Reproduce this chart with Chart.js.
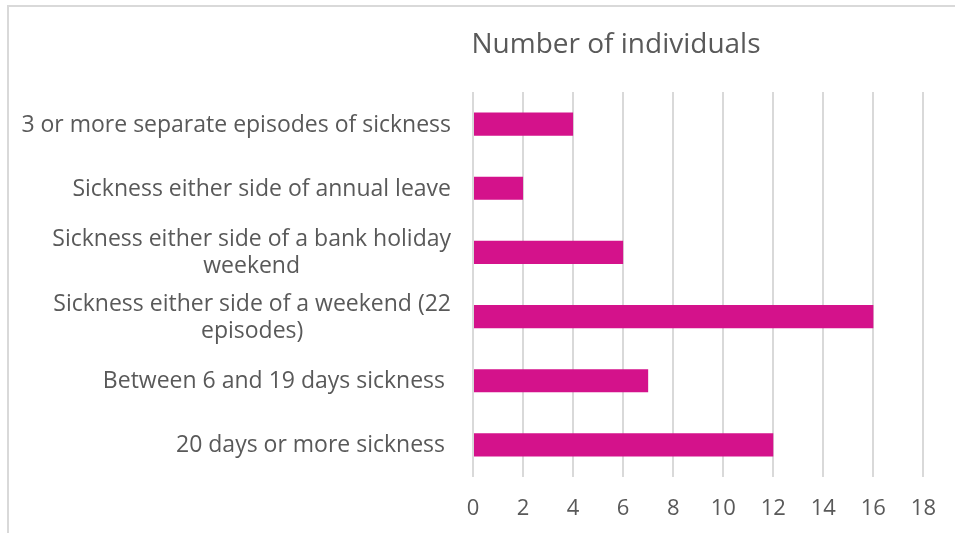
<!DOCTYPE html>
<html>
<head>
<meta charset="UTF-8">
<title>Number of individuals</title>
<script src="https://cdn.jsdelivr.net/npm/chart.js@4.4.1/dist/chart.umd.min.js"></script>
<style>
  html, body { margin: 0; padding: 0; background: #fff; overflow: hidden; }
  #frame { position: absolute; left: 7px; top: 5px; width: 980px; height: 560px; border: 2px solid #d9d9d9; box-sizing: border-box; }
  #wrap { position: absolute; left: 0; top: 0; width: 955px; height: 533px; }
</style>
</head>
<body>
<div id="frame"></div>
<div id="wrap"><canvas id="myChart" width="955" height="533"></canvas></div>
<script>
// category labels, top to bottom (each entry = wrapped lines)
var categories = [
  ["3 or more separate episodes of sickness"],
  ["Sickness either side of annual leave"],
  ["Sickness either side of a bank holiday", "weekend"],
  ["Sickness either side of a weekend (22", "episodes)"],
  ["Between 6 and 19 days sickness "],
  ["20 days or more sickness "]
];
var individuals = [4, 2, 6, 16, 7, 12];
var xTicks = [0, 2, 4, 6, 8, 10, 12, 14, 16, 18];
var chartTitle = "Number of individuals";

var textColor = "#595959";
var fontFamily = "'Open Sans', sans-serif";
var labelSize = 23, labelLine = 27;

// draws the wrapped category labels: first line right-aligned, extra lines centred under it
var categoryLabels = {
  id: "categoryLabels",
  afterDraw: function(chart) {
    var ctx = chart.ctx, yScale = chart.scales.y;
    var right = chart.chartArea.left - 22;
    ctx.save();
    ctx.font = labelSize + "px " + fontFamily;
    ctx.fillStyle = textColor;
    ctx.textBaseline = "middle";
    categories.forEach(function(lines, i) {
      var cy = yScale.getPixelForTick(i) + 1;
      var center = right - ctx.measureText(lines[0]).width / 2;
      var top = cy - (lines.length - 1) * labelLine / 2;
      lines.forEach(function(t, j) {
        if (j === 0) {
          ctx.textAlign = "right";
          ctx.fillText(t, right, top);
        } else {
          ctx.textAlign = "center";
          ctx.fillText(t, center, top + j * labelLine);
        }
      });
    });
    ctx.restore();
  }
};

var titleText = {
  id: "titleText",
  afterDraw: function(chart) {
    var ctx = chart.ctx;
    ctx.save();
    ctx.font = "28px " + fontFamily;
    ctx.fillStyle = textColor;
    ctx.textAlign = "center";
    ctx.textBaseline = "middle";
    ctx.fillText(chartTitle, 616, 45);
    ctx.restore();
  }
};

new Chart(document.getElementById("myChart"), {
  type: "bar",
  data: {
    labels: categories.map(function(l) { return l.join(" "); }),
    datasets: [{
      label: chartTitle,
      data: individuals,
      backgroundColor: "#d4128b",
      borderWidth: 0,
      barPercentage: 0.36,
      categoryPercentage: 1
    }]
  },
  options: {
    indexAxis: "y",
    responsive: false,
    animation: false,
    layout: { padding: { left: 0, right: 29, top: 92, bottom: 0 } },
    plugins: {
      legend: { display: false },
      title: { display: false },
      tooltip: { enabled: false }
    },
    scales: {
      x: {
        min: xTicks[0],
        max: xTicks[xTicks.length - 1],
        ticks: {
          stepSize: xTicks[1] - xTicks[0],
          color: textColor,
          font: { family: fontFamily, size: 22 },
          padding: 19
        },
        grid: { color: "#d9d9d9", lineWidth: 2, drawTicks: false },
        border: { display: false },
        afterFit: function(scale) { scale.height = 56; }
      },
      y: {
        ticks: { display: false },
        grid: { display: false },
        border: { display: false },
        afterFit: function(scale) { scale.width = 473; }
      }
    }
  },
  plugins: [categoryLabels, titleText]
});
</script>
</body>
</html>
